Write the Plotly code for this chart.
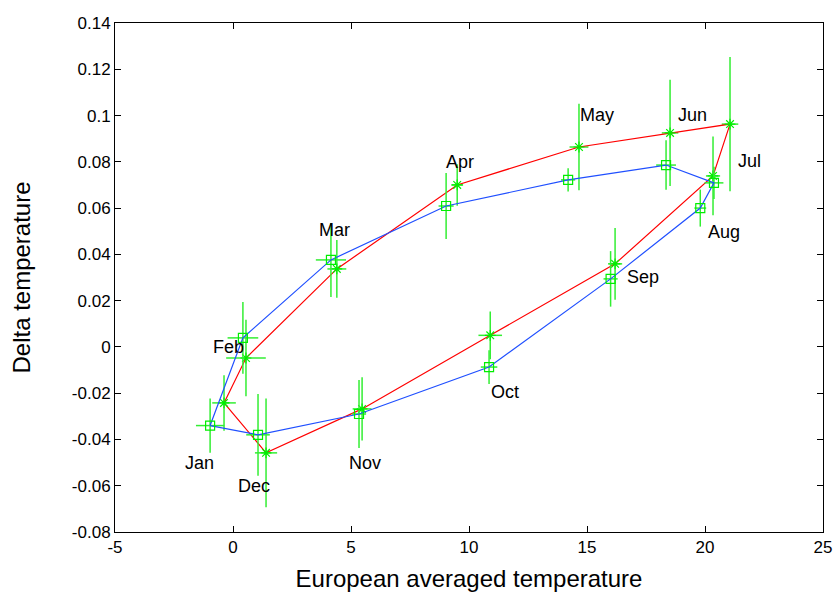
import plotly.graph_objects as go

months = ["Jan", "Feb", "Mar", "Apr", "May", "Jun", "Jul", "Aug", "Sep", "Oct", "Nov", "Dec"]

# Series A (blue line, square markers)
blue_x = [-0.97, 0.42, 4.15, 9.03, 14.2, 18.35, 20.38, 19.8, 16.0, 10.85, 5.34, 1.06]
blue_y = [-0.034, 0.0039, 0.0376, 0.0609, 0.0722, 0.0786, 0.0709, 0.060, 0.0294, -0.0087, -0.029, -0.038]
blue_ex = [0.6, 0.65, 0.64, 0.32, 0.3, 0.42, 0.4, 0.25, 0.3, 0.35, 0.3, 0.5]
blue_ey = [0.0117, 0.0155, 0.016, 0.0143, 0.005, 0.0107, 0.007, 0.008, 0.012, 0.0073, 0.0147, 0.0177]

# Series B (red line, asterisk markers)
red_x = [-0.38, 0.55, 4.4, 9.5, 14.66, 18.52, 21.06, 20.34, 16.19, 10.9, 5.47, 1.4]
red_y = [-0.0242, -0.0048, 0.0337, 0.070, 0.0864, 0.0925, 0.0963, 0.0739, 0.0359, 0.005, -0.0268, -0.0458]
red_ex = [0.5, 0.84, 0.4, 0.25, 0.4, 0.35, 0.35, 0.3, 0.3, 0.5, 0.4, 0.47]
red_ey = [0.012, 0.0165, 0.0125, 0.009, 0.0187, 0.023, 0.029, 0.017, 0.0155, 0.0103, 0.0137, 0.0235]

# Month label anchor positions (data coords)
label_x = [-1.44, -0.21, 4.28, 9.62, 15.42, 19.45, 21.9, 20.8, 17.37, 11.53, 5.59, 0.89]
label_y = [-0.0501, 0.0, 0.0505, 0.080, 0.1002, 0.1002, 0.0804, 0.0497, 0.0302, -0.0195, -0.0501, -0.060]

x_ticks = [-5, 0, 5, 10, 15, 20, 25]
x_ticktext = ["-5", "0", "5", "10", "15", "20", "25"]
y_ticks = [-0.08, -0.06, -0.04, -0.02, 0, 0.02, 0.04, 0.06, 0.08, 0.1, 0.12, 0.14]
y_ticktext = ["-0.08", "-0.06", "-0.04", "-0.02", "0", "0.02", "0.04", "0.06", "0.08", "0.1", "0.12", "0.14"]

GREEN = "#33ee33"
FONT = "Liberation Sans, Arial, sans-serif"

fig = go.Figure()

def add_series(xs, ys, ex, ey, line_color, symbol):
    fig.add_trace(go.Scatter(
        x=xs, y=ys, mode="markers",
        marker=dict(size=0.1, color="rgba(0,0,0,0)"),
        error_x=dict(type="data", array=ex, visible=True, color=GREEN, thickness=1.5, width=0),
        error_y=dict(type="data", array=ey, visible=True, color=GREEN, thickness=1.5, width=0),
        showlegend=False, hoverinfo="skip"))
    fig.add_trace(go.Scatter(
        x=xs + xs[:1], y=ys + ys[:1], mode="lines",
        line=dict(color=line_color, width=1.2),
        showlegend=False))
    fig.add_trace(go.Scatter(
        x=xs, y=ys, mode="markers",
        marker=dict(symbol=symbol, size=9, color="#00ee00",
                    line=dict(color="#00ee00", width=1.2)),
        showlegend=False))

add_series(red_x, red_y, red_ex, red_ey, "#ff0000", "asterisk-open")
add_series(blue_x, blue_y, blue_ex, blue_ey, "#1f4fff", "square-open")

for m, lx, ly in zip(months, label_x, label_y):
    fig.add_annotation(x=lx, y=ly, text=m, showarrow=False,
                       font=dict(family=FONT, size=18, color="black"),
                       xanchor="center", yanchor="middle")

axis_common = dict(
    showgrid=False, zeroline=False, showline=True, linecolor="black", linewidth=1,
    mirror="ticks", ticks="inside", ticklen=6, tickcolor="black", tickwidth=1,
    tickfont=dict(family=FONT, size=17, color="black"), automargin=False,
)

fig.update_layout(
    width=838, height=592,
    margin=dict(l=115, r=15, t=23, b=60),
    paper_bgcolor="white", plot_bgcolor="white",
    xaxis=dict(range=[-5, 25], tickvals=x_ticks, ticktext=x_ticktext,
               title=dict(text="European averaged temperature", standoff=14,
                          font=dict(family=FONT, size=24, color="black")),
               **axis_common),
    yaxis=dict(range=[-0.08, 0.14], tickvals=y_ticks, ticktext=y_ticktext,
               title=dict(text="Delta temperature", standoff=34,
                          font=dict(family=FONT, size=24, color="black")),
               **axis_common),
)

fig.write_html("out.html", config={"displayModeBar": False},
               post_script="document.body.style.margin='0';document.body.style.overflow='hidden';")
